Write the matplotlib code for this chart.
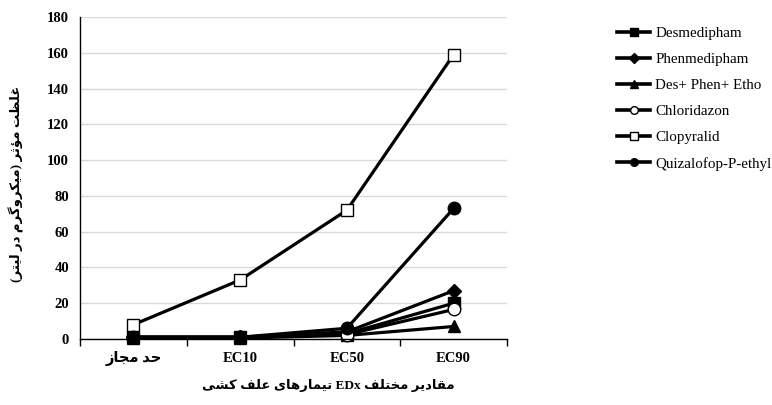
import matplotlib
matplotlib.use("Agg")
import matplotlib.pyplot as plt
from matplotlib.lines import Line2D

# ---------------- data ----------------
categories = ["حد مجاز", "EC10", "EC50", "EC90"]
series_names = ["Desmedipham", "Phenmedipham", "Des+ Phen+ Etho",
                "Chloridazon", "Clopyralid", "Quizalofop-P-ethyl"]
desmedipham = [1.0, 1.0, 3.0, 20.0]
phenmedipham = [1.0, 1.0, 4.0, 27.0]
des_phen_etho = [0.5, 0.5, 2.0, 7.0]
chloridazon = [1.0, 1.0, 2.5, 16.5]
clopyralid = [8.0, 33.0, 72.0, 159.0]
quizalofop = [1.0, 1.0, 6.0, 73.0]
y_ticks = [0, 20, 40, 60, 80, 100, 120, 140, 160, 180]
y_label = "غلظت مؤثر (میکروگرم در لیتر)"
x_label = "مقادیر مختلف EDx تیمارهای علف کشی"

# ---------------- minimal Arabic/Persian shaping ----------------
FORMS = {  # iso, fin, ini, med
    "ا": ("\uFE8D", "\uFE8E"), "د": ("\uFEA9", "\uFEAA"), "ر": ("\uFEAD", "\uFEAE"),
    "ز": ("\uFEAF", "\uFEB0"), "و": ("\uFEED", "\uFEEE"), "ؤ": ("\uFE85", "\uFE86"),
    "ب": ("\uFE8F", "\uFE90", "\uFE91", "\uFE92"),
    "ت": ("\uFE95", "\uFE96", "\uFE97", "\uFE98"),
    "ث": ("\uFE99", "\uFE9A", "\uFE9B", "\uFE9C"),
    "ج": ("\uFE9D", "\uFE9E", "\uFE9F", "\uFEA0"),
    "ح": ("\uFEA1", "\uFEA2", "\uFEA3", "\uFEA4"),
    "خ": ("\uFEA5", "\uFEA6", "\uFEA7", "\uFEA8"),
    "ش": ("\uFEB5", "\uFEB6", "\uFEB7", "\uFEB8"),
    "ظ": ("\uFEC5", "\uFEC6", "\uFEC7", "\uFEC8"),
    "ع": ("\uFEC9", "\uFECA", "\uFECB", "\uFECC"),
    "غ": ("\uFECD", "\uFECE", "\uFECF", "\uFED0"),
    "ف": ("\uFED1", "\uFED2", "\uFED3", "\uFED4"),
    "ق": ("\uFED5", "\uFED6", "\uFED7", "\uFED8"),
    "ل": ("\uFEDD", "\uFEDE", "\uFEDF", "\uFEE0"),
    "م": ("\uFEE1", "\uFEE2", "\uFEE3", "\uFEE4"),
    "ه": ("\uFEE9", "\uFEEA", "\uFEEB", "\uFEEC"),
    "ی": ("\uFBFC", "\uFBFD", "\uFBFE", "\uFBFF"),
    "ک": ("\uFB8E", "\uFB8F", "\uFB90", "\uFB91"),
    "گ": ("\uFB92", "\uFB93", "\uFB94", "\uFB95"),
}
MIRROR = {"(": ")", ")": "("}


def shape(text):
    out = []
    for i, ch in enumerate(text):
        if ch not in FORMS:
            out.append(ch)
            continue
        prev = text[i - 1] if i > 0 else None
        nxt = text[i + 1] if i + 1 < len(text) else None
        cp = prev in FORMS and len(FORMS[prev]) == 4
        cn = len(FORMS[ch]) == 4 and nxt in FORMS
        f = FORMS[ch]
        if cp and cn:
            out.append(f[3])
        elif cp:
            out.append(f[1])
        elif cn:
            out.append(f[2])
        else:
            out.append(f[0])
    return "".join(out)


def is_arabic(w):
    return any(c in FORMS for c in w)


def rtl_word(w):
    s = shape(w)[::-1]
    return "".join(MIRROR.get(c, c) for c in s)


def rtl(text):
    """Visual order for an RTL paragraph; Latin words keep their own order."""
    words = text.split(" ")[::-1]
    return " ".join(rtl_word(w) if is_arabic(w) else w for w in words)


# ---------------- figure ----------------
fig = plt.figure(figsize=(7.72, 4.05), dpi=100)
ax = fig.add_axes([80 / 772, 1 - 339 / 405, (507 - 80) / 772, (339 - 17) / 405])

x = list(range(len(categories)))
series = [desmedipham, phenmedipham, des_phen_etho, chloridazon, clopyralid, quizalofop]
markers = ["s", "D", "^", "o", "s", "o"]
faces = ["black", "black", "black", "white", "white", "black"]
msizes = [8, 7, 9, 9, 8.5, 9]

for vals, name, m, fc, ms in zip(series, series_names, markers, faces, msizes):
    ax.plot(x, vals, color="black", lw=2.3, marker=m, markersize=ms,
            markerfacecolor=fc, markeredgecolor="black", markeredgewidth=1.0,
            label=name, clip_on=False)

ax.set_xlim(-0.5, len(categories) - 0.5)
ax.set_ylim(0, 180)
ax.set_yticks(y_ticks)
ax.yaxis.grid(True, color="#d9d9d9", lw=1.0)
ax.set_axisbelow(True)
for s in ["top", "right"]:
    ax.spines[s].set_visible(False)
ax.spines["left"].set_linewidth(1.0)
ax.spines["bottom"].set_linewidth(1.0)

ax.set_xticks([i - 0.5 for i in range(len(categories) + 1)])
ax.set_xticklabels([])
ax.tick_params(axis="x", which="major", length=5, direction="out", width=1.0)
ax.set_xticks(x, minor=True)
ax.set_xticklabels([rtl(c) if is_arabic(c) else c for c in categories], minor=True,
                   fontsize=10.5, fontweight="bold",
                   family=["Liberation Serif", "DejaVu Sans"])
ax.tick_params(axis="x", which="minor", length=0, pad=9)
ax.tick_params(axis="y", length=0, pad=8)
for lab in ax.get_yticklabels():
    lab.set_fontfamily("Liberation Serif")
    lab.set_fontweight("bold")
    lab.set_fontsize(10.5)

fig.text(328 / 772, 1 - 385 / 405, rtl(x_label), ha="center", va="center",
         fontsize=9.5, fontweight="bold", family=["Liberation Serif", "DejaVu Sans"])
fig.text(16 / 772, 1 - 184 / 405, rtl(y_label), ha="center", va="center",
         rotation=90, fontsize=9.5, fontweight="bold",
         family=["Liberation Serif", "DejaVu Sans"])

handles = [Line2D([], [], color="black", lw=2.6, marker=m, markersize=5.5,
                  markerfacecolor=fc, markeredgecolor="black", markeredgewidth=1.0)
           for m, fc in zip(markers, faces)]
fig.legend(handles, series_names, loc="upper left",
           bbox_to_anchor=(617 / 772, 1 - 27 / 405), frameon=False,
           prop={"family": "Liberation Serif", "size": 10.8},
           handlelength=2.2, handletextpad=0.35, labelspacing=0.83,
           borderaxespad=0, borderpad=0)

fig.savefig("out.png", dpi=100, facecolor="white")
